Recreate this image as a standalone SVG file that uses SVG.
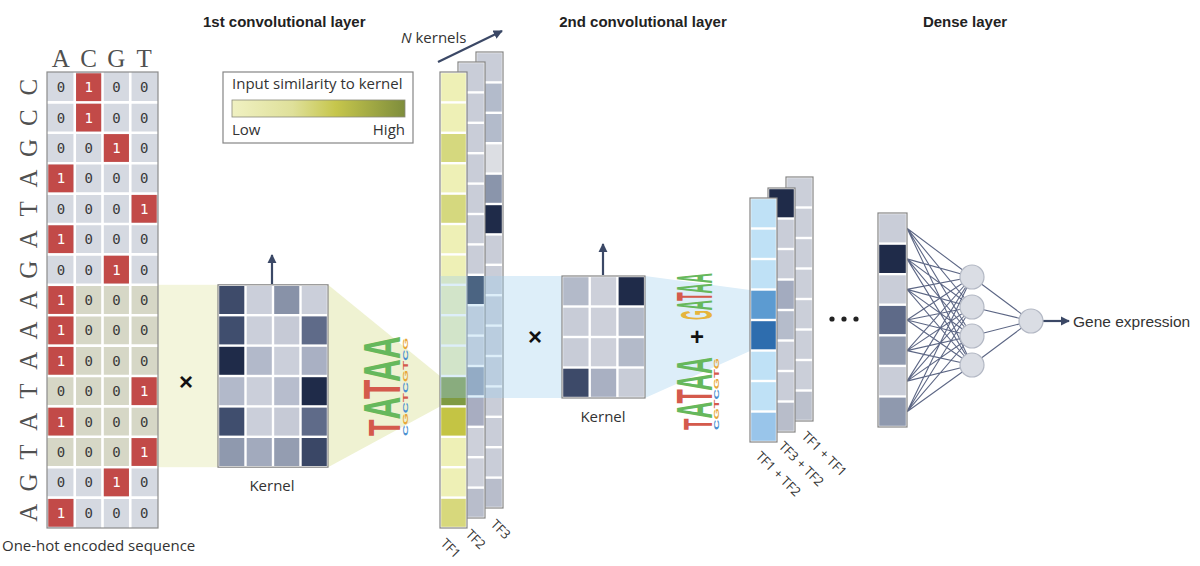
<svg xmlns="http://www.w3.org/2000/svg" width="1200" height="566" viewBox="0 0 1200 566">
<style>
.lbl{font-family:"Open Sans","Liberation Sans",sans-serif;font-size:15px;fill:#333}
.ttl{font-family:"Liberation Sans",Arial,sans-serif;font-weight:bold;font-size:15px;fill:#222}
.nt{font-family:"DejaVu Sans Mono",monospace;font-size:14px;text-anchor:middle;fill:#3a3a3a}
.n1{fill:#fff}
.seq{font-family:"Liberation Serif","Times New Roman",serif;font-size:25px;fill:#505050;text-anchor:middle}
.logo{font-family:"Liberation Sans",Arial,sans-serif;font-weight:bold}
.sm{font-family:"Liberation Sans",Arial,sans-serif;font-weight:bold}
.box{fill:#fff;stroke:#858585;stroke-width:1.2}
.tf{font-family:"Open Sans","Liberation Sans",sans-serif;font-size:13px;fill:#333}
.arr{stroke:#3b4866;stroke-width:2.2;fill:none}
.net{stroke:#5d6785;stroke-width:1.1;fill:none}
.red{fill:#c24a48}
.nd{fill:#dadde4;stroke:#b3b8c4;stroke-width:1.2}
.sym{font-family:"Liberation Sans",Arial,sans-serif;font-weight:bold;font-size:24px;fill:#111;text-anchor:middle}
</style>
<defs>
<marker id="ah" viewBox="0 0 10 10" refX="9" refY="5" markerWidth="4.2" markerHeight="4.2" orient="auto" markerUnits="strokeWidth"><path d="M0,0 L10,5 L0,10 z" fill="#3b4866"/></marker>
<linearGradient id="sim" x1="0" y1="0" x2="1" y2="0"><stop offset="0" stop-color="#f0f1c2"/><stop offset="0.35" stop-color="#dfe09a"/><stop offset="0.6" stop-color="#c6c64c"/><stop offset="1" stop-color="#7e8d3c"/></linearGradient>
</defs>

<!-- titles -->
<text class="ttl" x="203" y="27">1st convolutional layer</text>
<text class="ttl" x="643" y="27" text-anchor="middle">2nd convolutional layer</text>
<text class="ttl" x="965" y="27" text-anchor="middle">Dense layer</text>

<!-- highlight bands -->
<g id="bands">
<rect x="158" y="284.8" width="60" height="182.4" fill="#f3f5dc"/>
<polygon points="328,284.8 440,376 440,406.4 328,467.2" fill="#eff2d2"/>
</g>

<!-- one-hot matrix -->
<g id="one-hot">
<text class="seq" x="60.9" y="67">A</text><text class="seq" x="88.6" y="67">C</text><text class="seq" x="116.4" y="67">G</text><text class="seq" x="144.1" y="67">T</text>
<text class="seq" transform="translate(37,87.2) rotate(-90)">C</text>
<text class="seq" transform="translate(37,117.6) rotate(-90)">C</text>
<text class="seq" transform="translate(37,148) rotate(-90)">G</text>
<text class="seq" transform="translate(37,178.4) rotate(-90)">A</text>
<text class="seq" transform="translate(37,208.8) rotate(-90)">T</text>
<text class="seq" transform="translate(37,239.2) rotate(-90)">A</text>
<text class="seq" transform="translate(37,269.6) rotate(-90)">G</text>
<text class="seq" transform="translate(37,300) rotate(-90)">A</text>
<text class="seq" transform="translate(37,330.4) rotate(-90)">A</text>
<text class="seq" transform="translate(37,360.8) rotate(-90)">A</text>
<text class="seq" transform="translate(37,391.2) rotate(-90)">T</text>
<text class="seq" transform="translate(37,421.6) rotate(-90)">A</text>
<text class="seq" transform="translate(37,452) rotate(-90)">T</text>
<text class="seq" transform="translate(37,482.4) rotate(-90)">G</text>
<text class="seq" transform="translate(37,512.8) rotate(-90)">A</text>
<rect x="47" y="72" width="111" height="456" fill="#d5d9e1"/>
<rect x="47" y="284.8" width="111" height="182.4" fill="#d6d7c6"/>
<path d="M74.75,72V528M102.5,72V528M130.25,72V528M47,102.4H158M47,132.8H158M47,163.2H158M47,193.6H158M47,224H158M47,254.4H158M47,284.8H158M47,315.2H158M47,345.6H158M47,376H158M47,406.4H158M47,436.8H158M47,467.2H158M47,497.6H158" stroke="#fff" stroke-width="2.6"/>
<rect class="red" x="76.05" y="73.3" width="25.15" height="27.8"/>
<rect class="red" x="76.05" y="103.7" width="25.15" height="27.8"/>
<rect class="red" x="103.8" y="134.1" width="25.15" height="27.8"/>
<rect class="red" x="48.3" y="164.5" width="25.15" height="27.8"/>
<rect class="red" x="131.55" y="194.9" width="25.15" height="27.8"/>
<rect class="red" x="48.3" y="225.3" width="25.15" height="27.8"/>
<rect class="red" x="103.8" y="255.7" width="25.15" height="27.8"/>
<rect class="red" x="48.3" y="286.1" width="25.15" height="27.8"/>
<rect class="red" x="48.3" y="316.5" width="25.15" height="27.8"/>
<rect class="red" x="48.3" y="346.9" width="25.15" height="27.8"/>
<rect class="red" x="131.55" y="377.3" width="25.15" height="27.8"/>
<rect class="red" x="48.3" y="407.7" width="25.15" height="27.8"/>
<rect class="red" x="131.55" y="438.1" width="25.15" height="27.8"/>
<rect class="red" x="103.8" y="468.5" width="25.15" height="27.8"/>
<rect class="red" x="48.3" y="498.9" width="25.15" height="27.8"/>
<rect x="47" y="72" width="111" height="456" fill="none" stroke="#8c8c8c" stroke-width="1.2"/>
<text class="nt" x="60.9" y="92.2">0</text><text class="nt n1" x="88.6" y="92.2">1</text><text class="nt" x="116.4" y="92.2">0</text><text class="nt" x="144.1" y="92.2">0</text>
<text class="nt" x="60.9" y="122.6">0</text><text class="nt n1" x="88.6" y="122.6">1</text><text class="nt" x="116.4" y="122.6">0</text><text class="nt" x="144.1" y="122.6">0</text>
<text class="nt" x="60.9" y="153">0</text><text class="nt" x="88.6" y="153">0</text><text class="nt n1" x="116.4" y="153">1</text><text class="nt" x="144.1" y="153">0</text>
<text class="nt n1" x="60.9" y="183.4">1</text><text class="nt" x="88.6" y="183.4">0</text><text class="nt" x="116.4" y="183.4">0</text><text class="nt" x="144.1" y="183.4">0</text>
<text class="nt" x="60.9" y="213.8">0</text><text class="nt" x="88.6" y="213.8">0</text><text class="nt" x="116.4" y="213.8">0</text><text class="nt n1" x="144.1" y="213.8">1</text>
<text class="nt n1" x="60.9" y="244.2">1</text><text class="nt" x="88.6" y="244.2">0</text><text class="nt" x="116.4" y="244.2">0</text><text class="nt" x="144.1" y="244.2">0</text>
<text class="nt" x="60.9" y="274.6">0</text><text class="nt" x="88.6" y="274.6">0</text><text class="nt n1" x="116.4" y="274.6">1</text><text class="nt" x="144.1" y="274.6">0</text>
<text class="nt n1" x="60.9" y="305">1</text><text class="nt" x="88.6" y="305">0</text><text class="nt" x="116.4" y="305">0</text><text class="nt" x="144.1" y="305">0</text>
<text class="nt n1" x="60.9" y="335.4">1</text><text class="nt" x="88.6" y="335.4">0</text><text class="nt" x="116.4" y="335.4">0</text><text class="nt" x="144.1" y="335.4">0</text>
<text class="nt n1" x="60.9" y="365.8">1</text><text class="nt" x="88.6" y="365.8">0</text><text class="nt" x="116.4" y="365.8">0</text><text class="nt" x="144.1" y="365.8">0</text>
<text class="nt" x="60.9" y="396.2">0</text><text class="nt" x="88.6" y="396.2">0</text><text class="nt" x="116.4" y="396.2">0</text><text class="nt n1" x="144.1" y="396.2">1</text>
<text class="nt n1" x="60.9" y="426.6">1</text><text class="nt" x="88.6" y="426.6">0</text><text class="nt" x="116.4" y="426.6">0</text><text class="nt" x="144.1" y="426.6">0</text>
<text class="nt" x="60.9" y="457">0</text><text class="nt" x="88.6" y="457">0</text><text class="nt" x="116.4" y="457">0</text><text class="nt n1" x="144.1" y="457">1</text>
<text class="nt" x="60.9" y="487.4">0</text><text class="nt" x="88.6" y="487.4">0</text><text class="nt n1" x="116.4" y="487.4">1</text><text class="nt" x="144.1" y="487.4">0</text>
<text class="nt n1" x="60.9" y="517.8">1</text><text class="nt" x="88.6" y="517.8">0</text><text class="nt" x="116.4" y="517.8">0</text><text class="nt" x="144.1" y="517.8">0</text>
<text class="lbl" x="2" y="551">One-hot encoded sequence</text>
</g>

<text class="sym" x="186" y="390">×</text>

<!-- kernel 1 -->
<g id="kernel1">
<rect class="box" x="218" y="284.8" width="110" height="182.4"/>
<rect x="219.2" y="286" width="25.1" height="28" fill="#3e4b6a"/><rect x="246.7" y="286" width="25.1" height="28" fill="#cbcfda"/><rect x="274.2" y="286" width="25.1" height="28" fill="#8892a8"/><rect x="301.7" y="286" width="25.1" height="28" fill="#cbcfda"/>
<rect x="219.2" y="316.4" width="25.1" height="28" fill="#404e6e"/><rect x="246.7" y="316.4" width="25.1" height="28" fill="#cbcfda"/><rect x="274.2" y="316.4" width="25.1" height="28" fill="#c6cad6"/><rect x="301.7" y="316.4" width="25.1" height="28" fill="#5f6b89"/>
<rect x="219.2" y="346.8" width="25.1" height="28" fill="#1f2b49"/><rect x="246.7" y="346.8" width="25.1" height="28" fill="#b2b9ca"/><rect x="274.2" y="346.8" width="25.1" height="28" fill="#cbcfda"/><rect x="301.7" y="346.8" width="25.1" height="28" fill="#a9b0c3"/>
<rect x="219.2" y="377.2" width="25.1" height="28" fill="#b2b9ca"/><rect x="246.7" y="377.2" width="25.1" height="28" fill="#cbcfda"/><rect x="274.2" y="377.2" width="25.1" height="28" fill="#b7bdcd"/><rect x="301.7" y="377.2" width="25.1" height="28" fill="#1f2b49"/>
<rect x="219.2" y="407.6" width="25.1" height="28" fill="#404e6e"/><rect x="246.7" y="407.6" width="25.1" height="28" fill="#cbcfda"/><rect x="274.2" y="407.6" width="25.1" height="28" fill="#c6cad6"/><rect x="301.7" y="407.6" width="25.1" height="28" fill="#5f6b89"/>
<rect x="219.2" y="438" width="25.1" height="28" fill="#8f99ae"/><rect x="246.7" y="438" width="25.1" height="28" fill="#a2aabd"/><rect x="274.2" y="438" width="25.1" height="28" fill="#949db1"/><rect x="301.7" y="438" width="25.1" height="28" fill="#3a4766"/>
<text class="lbl" x="272" y="491" text-anchor="middle">Kernel</text>
</g>

<!-- logo 1 -->
<g id="logo1">
<g transform="translate(400,436) rotate(-90)">
<text class="logo" font-size="52" textLength="100" lengthAdjust="spacingAndGlyphs"><tspan fill="#d45a4c" font-size="44">T</tspan><tspan fill="#66b85c">A</tspan><tspan fill="#d45a4c">T</tspan><tspan fill="#66b85c">A</tspan><tspan fill="#66b85c">A</tspan></text>
<text class="sm" y="8" font-size="8" textLength="98" lengthAdjust="spacingAndGlyphs"><tspan fill="#4a8fd0">C</tspan><tspan fill="#e8a83a">G</tspan><tspan fill="#4a8fd0">C</tspan><tspan fill="#d45a4c">T</tspan><tspan fill="#4a8fd0">C</tspan><tspan fill="#e8a83a">G</tspan><tspan fill="#d45a4c">T</tspan><tspan fill="#4a8fd0">C</tspan><tspan fill="#e8a83a">G</tspan></text>
</g>
</g>

<!-- legend -->
<g id="legend">
<rect class="box" x="223" y="72" width="190" height="71"/>
<text class="lbl" x="232" y="89">Input similarity to kernel</text>
<rect x="232" y="100" width="173" height="17" fill="url(#sim)" stroke="#8a8a7a" stroke-width="0.8"/>
<text class="lbl" x="232" y="135">Low</text>
<text class="lbl" x="405" y="135" text-anchor="end">High</text>
</g>

<text class="lbl" x="401" y="43"><tspan font-style="italic">N</tspan> kernels</text>

<!-- conv1 feature maps -->
<g id="conv1-maps">
<rect class="box" x="476" y="52" width="27" height="456"/>
<g transform="translate(477.2,0)">
<rect y="53.2" width="24.6" height="28" fill="#c9cdd8"/><rect y="83.6" width="24.6" height="28" fill="#b3bbcb"/><rect y="114" width="24.6" height="28" fill="#b3bbcb"/><rect y="144.4" width="24.6" height="28" fill="#dcdee3"/><rect y="174.8" width="24.6" height="28" fill="#8a95ab"/><rect y="205.2" width="24.6" height="28" fill="#1f2b49"/><rect y="235.6" width="24.6" height="28" fill="#c9cdd8"/><rect y="266" width="24.6" height="28" fill="#c9cdd8"/><rect y="296.4" width="24.6" height="28" fill="#c9cdd8"/><rect y="326.8" width="24.6" height="28" fill="#c9cdd8"/><rect y="357.2" width="24.6" height="28" fill="#c9cdd8"/><rect y="387.6" width="24.6" height="28" fill="#c9cdd8"/><rect y="418" width="24.6" height="28" fill="#c9cdd8"/><rect y="448.4" width="24.6" height="28" fill="#c9cdd8"/><rect y="478.8" width="24.6" height="28" fill="#b8bdcb"/>
</g>
<rect class="box" x="458" y="62" width="27" height="456"/>
<g transform="translate(459.2,0)">
<rect y="63.2" width="24.6" height="28" fill="#c9cdd8"/><rect y="93.6" width="24.6" height="28" fill="#c9cdd8"/><rect y="124" width="24.6" height="28" fill="#c9cdd8"/><rect y="154.4" width="24.6" height="28" fill="#c9cdd8"/><rect y="184.8" width="24.6" height="28" fill="#c9cdd8"/><rect y="215.2" width="24.6" height="28" fill="#c9cdd8"/><rect y="245.6" width="24.6" height="28" fill="#c9cdd8"/><rect y="276" width="24.6" height="28" fill="#1f2b49"/><rect y="306.4" width="24.6" height="28" fill="#c9cdd8"/><rect y="336.8" width="24.6" height="28" fill="#c9cdd8"/><rect y="367.2" width="24.6" height="28" fill="#8e98af"/><rect y="397.6" width="24.6" height="28" fill="#a8adc1"/><rect y="428" width="24.6" height="28" fill="#cdd0da"/><rect y="458.4" width="24.6" height="28" fill="#cdd0da"/><rect y="488.8" width="24.6" height="28" fill="#b8bdcb"/>
</g>
<rect class="box" x="440" y="72" width="27" height="456"/>
<g transform="translate(441.2,0)">
<rect y="73.2" width="24.6" height="28" fill="#eef0b6"/><rect y="103.6" width="24.6" height="28" fill="#eef0b6"/><rect y="134" width="24.6" height="28" fill="#d5d87e"/><rect y="164.4" width="24.6" height="28" fill="#eef0b6"/><rect y="194.8" width="24.6" height="28" fill="#d5d87e"/><rect y="225.2" width="24.6" height="28" fill="#eef0b6"/><rect y="255.6" width="24.6" height="28" fill="#eef0b6"/><rect y="286" width="24.6" height="28" fill="#eef0b6"/><rect y="316.4" width="24.6" height="28" fill="#eef0b6"/><rect y="346.8" width="24.6" height="28" fill="#eef0b6"/><rect y="377.2" width="24.6" height="28" fill="#7f9a42"/><rect y="407.6" width="24.6" height="28" fill="#c4c444"/><rect y="438" width="24.6" height="28" fill="#eef0b6"/><rect y="468.4" width="24.6" height="28" fill="#eef0b6"/><rect y="498.8" width="24.6" height="28" fill="#d7d87c"/>
</g>
<text class="tf" transform="translate(440,544) rotate(45)">TF1</text>
<text class="tf" transform="translate(465,535) rotate(45)">TF2</text>
<text class="tf" transform="translate(490,525) rotate(45)">TF3</text>
</g>

<!-- blue band -->
<g id="band2">
<rect x="440" y="276" width="122" height="122" fill="#9fcdee" opacity="0.35"/>
<polygon points="645,276 750,290 750,351 645,398" fill="#ddeef9"/>
</g>

<text class="sym" x="535" y="345">×</text>

<!-- kernel 2 -->
<g id="kernel2">
<rect class="box" x="562" y="276" width="83" height="122"/>
<rect x="563.2" y="277.2" width="25.3" height="28.1" fill="#b3bac9"/><rect x="590.9" y="277.2" width="25.3" height="28.1" fill="#cdd0da"/><rect x="618.6" y="277.2" width="25.3" height="28.1" fill="#1f2b49"/>
<rect x="563.2" y="307.7" width="25.3" height="28.1" fill="#c8ccd7"/><rect x="590.9" y="307.7" width="25.3" height="28.1" fill="#cdd0da"/><rect x="618.6" y="307.7" width="25.3" height="28.1" fill="#b3bac9"/>
<rect x="563.2" y="338.2" width="25.3" height="28.1" fill="#c8ccd7"/><rect x="590.9" y="338.2" width="25.3" height="28.1" fill="#cdd0da"/><rect x="618.6" y="338.2" width="25.3" height="28.1" fill="#b3bac9"/>
<rect x="563.2" y="368.7" width="25.3" height="28.1" fill="#3d4a69"/><rect x="590.9" y="368.7" width="25.3" height="28.1" fill="#a9b0c2"/><rect x="618.6" y="368.7" width="25.3" height="28.1" fill="#c8ccd7"/>
<text class="lbl" x="603" y="422" text-anchor="middle">Kernel</text>
</g>

<!-- logos 2 -->
<g id="logo2">
<g transform="translate(712,320) rotate(-90)">
<text class="logo" font-size="50" textLength="47" lengthAdjust="spacingAndGlyphs"><tspan fill="#e6b43c" font-size="44">G</tspan><tspan fill="#66b85c">A</tspan><tspan fill="#d45a4c">T</tspan><tspan fill="#66b85c">A</tspan><tspan fill="#66b85c">A</tspan></text>
</g>
<text class="sym" x="697" y="345">+</text>
<g transform="translate(712,430) rotate(-90)">
<text class="logo" font-size="50" textLength="73" lengthAdjust="spacingAndGlyphs"><tspan fill="#d45a4c" font-size="40">T</tspan><tspan fill="#66b85c">A</tspan><tspan fill="#d45a4c">T</tspan><tspan fill="#66b85c">A</tspan><tspan fill="#66b85c">A</tspan></text>
<text class="sm" y="7" font-size="7" textLength="72" lengthAdjust="spacingAndGlyphs"><tspan fill="#4a8fd0">C</tspan><tspan fill="#e8a83a">G</tspan><tspan fill="#d45a4c">T</tspan><tspan fill="#4a8fd0">C</tspan><tspan fill="#e8a83a">G</tspan><tspan fill="#d45a4c">T</tspan><tspan fill="#e8a83a">G</tspan></text>
</g>
</g>

<!-- conv2 feature maps -->
<g id="conv2-maps">
<rect class="box" x="786" y="177" width="27" height="244"/>
<g transform="translate(787.2,0)">
<rect y="178.2" width="24.6" height="28.1" fill="#cbcfd9"/><rect y="208.7" width="24.6" height="28.1" fill="#cbcfd9"/><rect y="239.2" width="24.6" height="28.1" fill="#cbcfd9"/><rect y="269.7" width="24.6" height="28.1" fill="#cbcfd9"/><rect y="300.2" width="24.6" height="28.1" fill="#cbcfd9"/><rect y="330.7" width="24.6" height="28.1" fill="#cbcfd9"/><rect y="361.2" width="24.6" height="28.1" fill="#cbcfd9"/><rect y="391.7" width="24.6" height="28.1" fill="#bcc1cd"/>
</g>
<rect class="box" x="768" y="188" width="27" height="244"/>
<g transform="translate(769.2,0)">
<rect y="189.2" width="24.6" height="28.1" fill="#1f2b49"/><rect y="219.7" width="24.6" height="28.1" fill="#c9cdd8"/><rect y="250.2" width="24.6" height="28.1" fill="#c9cdd8"/><rect y="280.7" width="24.6" height="28.1" fill="#a3abbf"/><rect y="311.2" width="24.6" height="28.1" fill="#b5bccb"/><rect y="341.7" width="24.6" height="28.1" fill="#c9cdd8"/><rect y="372.2" width="24.6" height="28.1" fill="#c9cdd8"/><rect y="402.7" width="24.6" height="28.1" fill="#b8bdca"/>
</g>
<rect class="box" x="750" y="198" width="27" height="244"/>
<g transform="translate(751.2,0)">
<rect y="199.2" width="24.6" height="28.1" fill="#bfe1f6"/><rect y="229.7" width="24.6" height="28.1" fill="#bfe1f6"/><rect y="260.2" width="24.6" height="28.1" fill="#bfe1f6"/><rect y="290.7" width="24.6" height="28.1" fill="#5c9bd1"/><rect y="321.2" width="24.6" height="28.1" fill="#2e6dae"/><rect y="351.7" width="24.6" height="28.1" fill="#bfe1f6"/><rect y="382.2" width="24.6" height="28.1" fill="#bfe1f6"/><rect y="412.7" width="24.6" height="28.1" fill="#99c5ea"/>
</g>
<text class="tf" transform="translate(755,457) rotate(45)">TF1 + TF2</text>
<text class="tf" transform="translate(778,447) rotate(45)">TF3 + TF2</text>
<text class="tf" transform="translate(801,437) rotate(45)">TF1 + TF1</text>
</g>

<g id="ellipsis" fill="#222">
<circle cx="832" cy="319" r="2.6"/><circle cx="844" cy="319" r="2.6"/><circle cx="856" cy="319" r="2.6"/>
</g>

<!-- connectors -->
<g id="connectors">
<line class="arr" x1="438" y1="62" x2="502" y2="31" marker-end="url(#ah)"/>
<line class="arr" x1="272" y1="284" x2="272" y2="255" marker-end="url(#ah)"/>
<line class="arr" x1="603" y1="275" x2="603" y2="244" marker-end="url(#ah)"/>
<path class="net" d="M907,228.3L972,277M907,228.3L972,307M907,228.3L972,336M907,228.3L972,365M907,258.9L972,277M907,258.9L972,307M907,258.9L972,336M907,258.9L972,365M907,289.4L972,277M907,289.4L972,307M907,289.4L972,336M907,289.4L972,365M907,320L972,277M907,320L972,307M907,320L972,336M907,320L972,365M907,350.6L972,277M907,350.6L972,307M907,350.6L972,336M907,350.6L972,365M907,381.1L972,277M907,381.1L972,307M907,381.1L972,336M907,381.1L972,365M907,411.7L972,277M907,411.7L972,307M907,411.7L972,336M907,411.7L972,365M972,277L1031,321M972,307L1031,321M972,336L1031,321M972,365L1031,321"/>
<line class="arr" x1="1043" y1="321" x2="1069" y2="321" marker-end="url(#ah)"/>
</g>

<!-- dense layer -->
<g id="dense">
<rect class="box" x="878" y="213" width="29" height="214"/>
<g transform="translate(879.2,0)">
<rect y="214.2" width="26.6" height="28.2" fill="#c9cdd8"/><rect y="244.8" width="26.6" height="28.2" fill="#1f2b49"/><rect y="275.3" width="26.6" height="28.2" fill="#c9cdd8"/><rect y="305.9" width="26.6" height="28.2" fill="#5e6a88"/><rect y="336.5" width="26.6" height="28.2" fill="#8f99ae"/><rect y="367.1" width="26.6" height="28.2" fill="#c9cdd8"/><rect y="397.6" width="26.6" height="28.2" fill="#8f99ae"/>
</g>
</g>
<g id="hidden">
<circle class="nd" cx="972" cy="277" r="12"/><circle class="nd" cx="972" cy="307" r="12"/><circle class="nd" cx="972" cy="336" r="12"/><circle class="nd" cx="972" cy="365" r="12"/>
</g>
<g id="output">
<circle class="nd" cx="1031" cy="321" r="12"/>
<text x="1073" y="327" font-family="Liberation Sans, Arial, sans-serif" font-size="15.5" fill="#333">Gene expression</text>
</g>
</svg>
